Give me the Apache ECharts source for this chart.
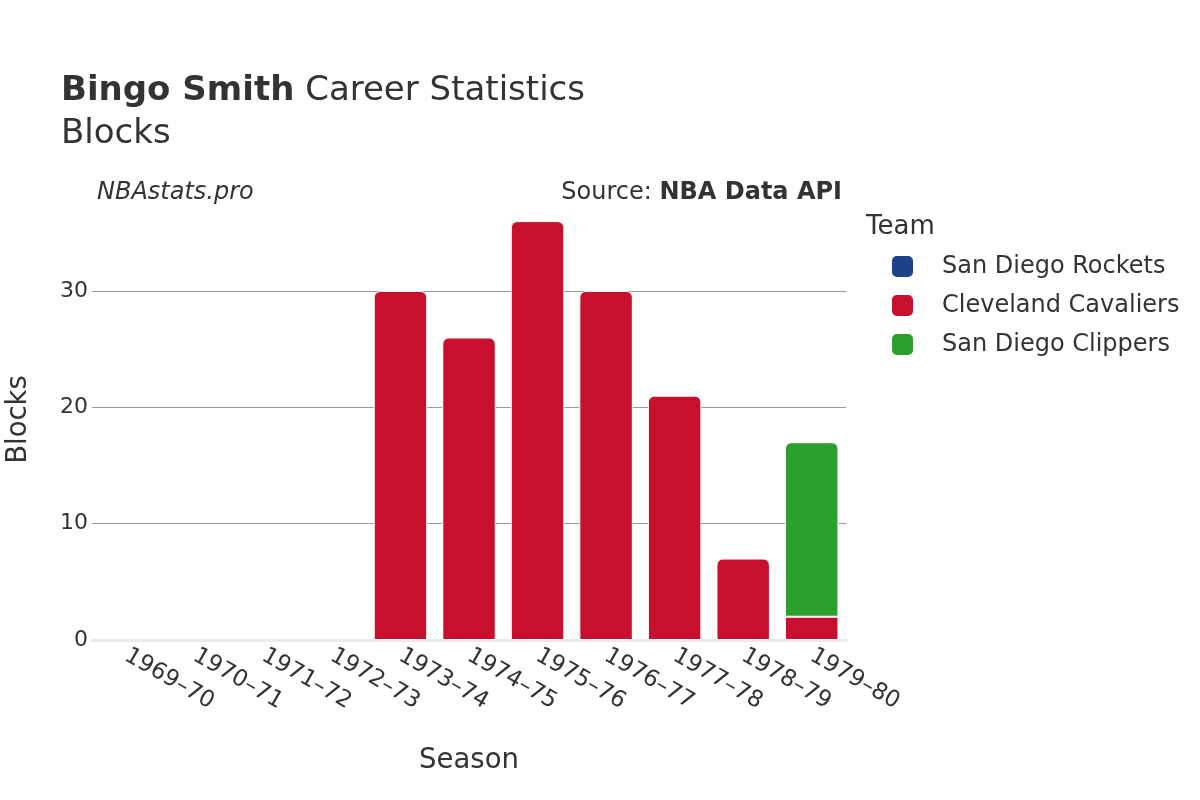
<!DOCTYPE html>
<html>
<head>
<meta charset="utf-8">
<script src="https://cdn.jsdelivr.net/npm/echarts@6/dist/echarts.min.js"></script>
<style>html,body{margin:0;padding:0;background:#fff}#c{width:1200px;height:800px}</style>
</head>
<body>
<div id="c"></div>
<script>
const seasons = ['1969–70','1970–71','1971–72','1972–73','1973–74','1974–75','1975–76','1976–77','1977–78','1978–79','1979–80'];
const teams = ['San Diego Rockets','Cleveland Cavaliers','San Diego Clippers'];
const rockets   = [0, null, null, null, null, null, null, null, null, null, null];
const cavaliers = [null, 0, 0, 0, 30, 26, 36, 30, 21, 7, 2];
const clippers  = [null, null, null, null, null, null, null, null, null, null, 15];
const teamColors = ['#1D428A', '#C8102E', '#2CA02C'];
const yTicks = [0, 10, 20, 30];

const seriesValues = [rockets, cavaliers, clippers];
const FONT = 'DejaVu Sans';

const series = seriesValues.map((vals, si) => ({
  name: teams[si],
  type: 'bar',
  stack: 'total',
  barWidth: '78%',
  itemStyle: { color: teamColors[si], borderColor: '#fff', borderWidth: 1 },
  data: vals.map((v, j) => {
    let top = true;
    for (let k = si + 1; k < seriesValues.length; k++) {
      if (seriesValues[k][j]) top = false;
    }
    return { value: v, itemStyle: { borderRadius: top ? [6, 6, 0, 0] : 0, borderWidth: v ? 1 : 0 } };
  })
}));

const chart = echarts.init(document.getElementById('c'), null, { renderer: 'canvas' });
chart.setOption({
  animation: false,
  backgroundColor: '#fff',
  textStyle: { fontFamily: FONT },
  title: [
    { text: '{b|Bingo Smith}{n| Career Statistics}', left: 56, top: 66,
      textStyle: { fontWeight: 'normal', rich: {
        b: { fontFamily: FONT, fontSize: 34, fontWeight: 'bold', color: '#333', lineHeight: 40 },
        n: { fontFamily: FONT, fontSize: 34, fontWeight: 'normal', color: '#333', lineHeight: 40 } } } },
    { text: 'Blocks', left: 56, top: 109,
      textStyle: { fontFamily: FONT, fontSize: 34, fontWeight: 'normal', color: '#333', lineHeight: 40 } },
    { text: 'NBAstats.pro', left: 92, top: 174,
      textStyle: { fontFamily: FONT, fontSize: 24, fontStyle: 'italic', fontWeight: 'normal', color: '#333', lineHeight: 28 } },
    { text: '{n|Source: }{b|NBA Data API}', right: 353, top: 174,
      textStyle: { fontWeight: 'normal', rich: {
        n: { fontFamily: FONT, fontSize: 24, fontWeight: 'normal', color: '#333', lineHeight: 28 },
        b: { fontFamily: FONT, fontSize: 24, fontWeight: 'bold', color: '#333', lineHeight: 28 } } } },
    { text: 'Team', left: 861, top: 207,
      textStyle: { fontFamily: FONT, fontSize: 26, fontWeight: 'normal', color: '#333', lineHeight: 30 } }
  ],
  legend: {
    orient: 'vertical', left: 885, top: 249,
    itemWidth: 23, itemHeight: 23, itemGap: 14,
    icon: 'roundRect',
    data: teams,
    textStyle: { fontFamily: FONT, fontSize: 24, color: '#333', lineHeight: 24, padding: [0, 0, 0, 23] }
  },
  grid: { left: 92, right: 354, top: 199, bottom: 160, containLabel: false, outerBoundsMode: 'none' },
  xAxis: {
    type: 'category', data: seasons,
    name: 'Season', nameLocation: 'middle', nameGap: 107,
    nameTextStyle: { fontFamily: FONT, fontSize: 27.5, color: '#333' },
    axisLine: { show: true, lineStyle: { color: '#ebebeb', width: 3 } },
    axisTick: { show: false },
    axisLabel: { rotate: -30, margin: 14, fontFamily: FONT, fontSize: 23, color: '#333', interval: 0 }
  },
  yAxis: {
    type: 'value', min: 0, max: 37.9, interval: 10,
    name: 'Blocks', nameLocation: 'middle', nameGap: 59,
    nameTextStyle: { fontFamily: FONT, fontSize: 27.5, color: '#333' },
    axisLine: { show: false }, axisTick: { show: false },
    axisLabel: { margin: 4, fontFamily: FONT, fontSize: 22, color: '#333',
      formatter: v => yTicks.includes(v) ? String(v) : '' },
    splitLine: { show: true, showMinLine: false, showMaxLine: false, lineStyle: { color: '#9a9a9a', width: 1 } }
  },
  series: series
});
</script>
</body>
</html>
